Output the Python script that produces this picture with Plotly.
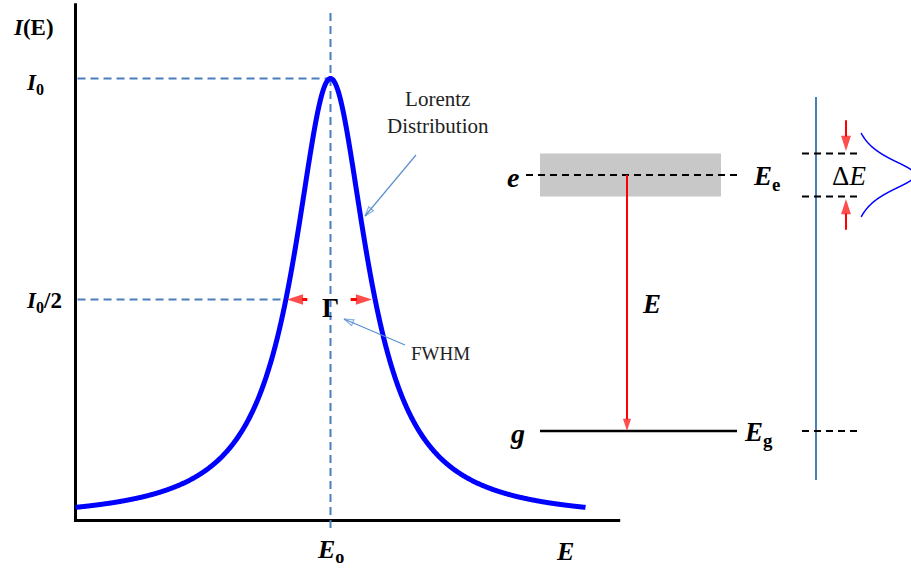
import numpy as np
import plotly.graph_objects as go

W, H = 911, 571
FONT = "Liberation Serif"

# ---- Lorentz line shape (left panel) ----
E0 = 5.0          # centre energy
GAMMA = 1.75      # full width at half maximum
I0 = 1.0          # peak intensity
E_CURVE = [0.0, 10.0]     # energy span of the drawn curve
E_AXIS = [0.0, 10.68]     # length of the energy axis
I_AXIS_TOP = 1.17         # height of the intensity axis

# ---- energy level scheme (right panel) ----
LEVEL_G = 0.0     # ground level
LEVEL_E = 1.0     # excited level
DELTA_E = 0.168   # natural width of the excited level


def lorentz(e, centre, width, peak):
    hw = width / 2.0
    return peak * hw ** 2 / ((np.asarray(e) - centre) ** 2 + hw ** 2)


E = np.linspace(E_CURVE[0], E_CURVE[1], 1001)
I = lorentz(E, E0, GAMMA, I0)
E_half_lo, E_half_hi = E0 - GAMMA / 2, E0 + GAMMA / 2

DASH_BLUE = "#4A7EBB"
POINTER = "#5B8FCF"
RED = "#FF0000"

# pixel scales of the two coordinate systems
PX_E, PX_I = 51.0, 442.0       # pixels per unit energy / intensity
ORG_X, ORG_Y = 75.5, 520.5     # pixel position of the origin
PX_LV, LV_Y = 256.0, 431.0     # pixels per level-energy unit, ground level pixel


def lv(p):
    """vertical pixel position -> level-scheme coordinate"""
    return (LV_Y - p) / PX_LV


fig = go.Figure()


def line(x, y, color, width, dash=None, axes=("x", "y")):
    fig.add_trace(go.Scatter(x=x, y=y, mode="lines",
                             line=dict(color=color, width=width, dash=dash, simplify=False),
                             xaxis=axes[0], yaxis=axes[1], hoverinfo="skip"))


def arrow(x, y, color, width, head, symbol="arrow", axes=("x", "y")):
    # two-point line; the head marker sits on the last point, turned along the line
    fig.add_trace(go.Scatter(
        x=x, y=y, mode="lines+markers",
        line=dict(color=color, width=width),
        marker=dict(symbol=symbol, size=[0, head], angleref="previous", color=color,
                    line=dict(color=color, width=width if "open" in symbol else 0)),
        xaxis=axes[0], yaxis=axes[1], hoverinfo="skip"))


# axes of the line-shape plot
line([0, 0], [-0.003, I_AXIS_TOP], "black", 3)
line([-0.03, E_AXIS[1]], [0, 0], "black", 3)
# guide lines at E0, I0 and I0/2
line([E0, E0], [-0.017, 1.155], DASH_BLUE, 2, "8px,5px")
line([0.04, E0], [I0, I0], DASH_BLUE, 2, "8px,5px")
line([0.04, E_half_lo], [I0 / 2, I0 / 2], DASH_BLUE, 2, "8px,5px")
# the Lorentz curve
line(E, I, "#0000FF", 5)

# width arrows at half maximum
arrow([E_half_lo + 0.42, E_half_lo + 0.02], [I0 / 2, I0 / 2], RED, 3, 17)
arrow([E_half_hi - 0.48, E_half_hi - 0.06], [I0 / 2, I0 / 2], RED, 3, 17)

# ---- level scheme, horizontal positions in pixels ----
L2 = ("x2", "y2")
x_lvl0, x_lvl1 = 540, 737
x_band0, x_band1 = 540, 721
x_trans = 627
x_side = 816

fig.add_shape(type="rect", xref="x2", yref="y2", x0=x_band0, x1=x_band1,
              y0=LEVEL_E - DELTA_E / 2, y1=LEVEL_E + DELTA_E / 2,
              fillcolor="#C8C8C8", line=dict(width=0), layer="below")
line([526, 742], [LEVEL_E, LEVEL_E], "black", 2, "7px,5px", L2)
line([x_lvl0, x_lvl1], [LEVEL_G, LEVEL_G], "black", 2.5, None, L2)
# side scale with the level width
line([x_side, x_side], [lv(480), lv(97)], DASH_BLUE, 2, None, L2)
for lvl in (LEVEL_E + DELTA_E / 2, LEVEL_E - DELTA_E / 2, LEVEL_G):
    line([802, 862], [lvl, lvl], "black", 2, "7px,5px", L2)
# sideways Lorentz profile of the excited level
yl = np.linspace(LEVEL_E - 0.164, LEVEL_E + 0.164, 401)
xl = 847 + 68 * lorentz(yl, LEVEL_E, DELTA_E, 1.0)
line(xl, yl, "#0000FF", 1.5, None, L2)

# transition and level-width arrows
arrow([x_trans, x_trans], [LEVEL_E, LEVEL_G], RED, 2, 13, axes=L2)
arrow([846, 846], [LEVEL_E + DELTA_E / 2 + 0.13, LEVEL_E + DELTA_E / 2 + 0.01], RED, 2, 16, axes=L2)
arrow([846, 846], [LEVEL_E - DELTA_E / 2 - 0.13, LEVEL_E - DELTA_E / 2 - 0.01], RED, 2, 16, axes=L2)

# thin pointers to the curve and to the width
arrow([416, 365], [lv(155), lv(216)], POINTER, 1.2, 10, "arrow-open", L2)
arrow([405, 344], [lv(345), lv(319)], POINTER, 1.2, 10, "arrow-open", L2)

ann = []


def label(text, x, y, xref, yref, size, color="black", **kw):
    ann.append(dict(text=text, x=x, y=y, xref=xref, yref=yref, showarrow=False,
                    xanchor="center", yanchor="middle",
                    font=dict(family=FONT, size=size, color=color), **kw))


def py(p):
    return 1 - p / H


# left panel labels
label("<b><i>I</i>(E)</b>", 33, py(28), "x2", "paper", 23)
label("<b><i>I</i><sub>0</sub></b>", 35, I0, "x2", "y", 23, yshift=-5)
label("<b><i>I</i><sub>0</sub>/2</b>", 44, I0 / 2, "x2", "y", 23, yshift=-2)
label("<b><i>E</i><sub>o</sub></b>", E0, py(551), "x", "paper", 26)
label("<b><i>E</i></b>", 9.6, py(551), "x", "paper", 26)
label("<b>Γ</b>", E0, I0 / 2, "x", "y", 27, yshift=-8)
label("Lorentz<br>Distribution", 438, py(112), "x2", "paper", 21, color="#222222")
label("FWHM", 440, py(353), "x2", "paper", 19, color="#222222")

# level scheme labels
label("<b><i>e</i></b>", 513, LEVEL_E, "x2", "y2", 28, yshift=-2)
label("<b><i>g</i></b>", 517, LEVEL_G, "x2", "y2", 28, yshift=-2)
label("<b><i>E</i><sub>e</sub></b>", 766, LEVEL_E, "x2", "y2", 27, yshift=-3)
label("<b><i>E</i><sub>g</sub></b>", 758, LEVEL_G, "x2", "y2", 27, yshift=-3)
label("<b><i>E</i></b>", 651, (LEVEL_E + LEVEL_G) / 2, "x2", "y2", 27, yshift=-1)
label("Δ<i>E</i>", 849, LEVEL_E, "x2", "y2", 27, yshift=-1)

fig.update_layout(
    width=W, height=H, autosize=False,
    margin=dict(l=0, r=0, t=0, b=0),
    paper_bgcolor="white", plot_bgcolor="white",
    showlegend=False,
    annotations=ann,
    xaxis=dict(domain=[0, 1], range=[-ORG_X / PX_E, (W - ORG_X) / PX_E], visible=False,
               fixedrange=True),
    yaxis=dict(domain=[0, 1], range=[(ORG_Y - H) / PX_I, ORG_Y / PX_I], visible=False,
               fixedrange=True),
    xaxis2=dict(domain=[0, 1], range=[0, W], overlaying="x", anchor="y2", visible=False,
                fixedrange=True),
    yaxis2=dict(domain=[0, 1], range=[(LV_Y - H) / PX_LV, LV_Y / PX_LV], overlaying="y",
                anchor="x2", visible=False, fixedrange=True),
)

fig.write_html("out.html")
